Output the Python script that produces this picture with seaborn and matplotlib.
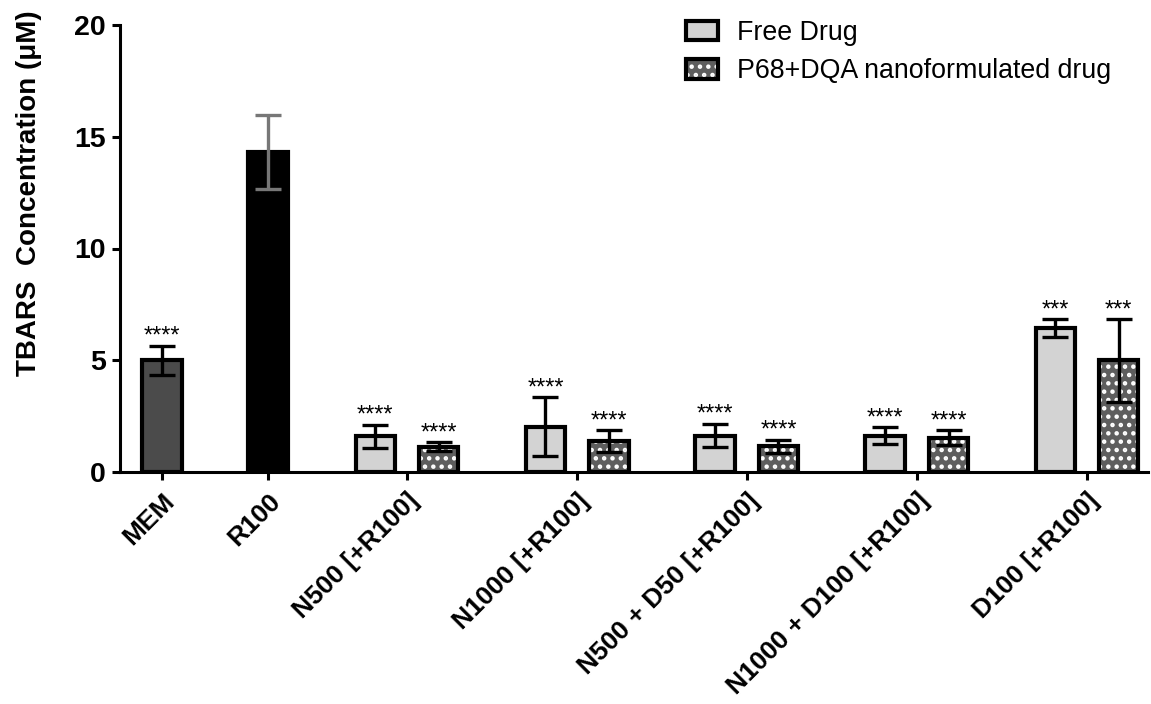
import numpy as np
import pandas as pd
import matplotlib
matplotlib.use("Agg")
import matplotlib.pyplot as plt
from matplotlib.patches import Patch, Rectangle
import seaborn as sns

# ---------------- data ----------------
categories = ["MEM", "R100", "N500 [+R100]", "N1000 [+R100]",
              "N500 + D50 [+R100]", "N1000 + D100 [+R100]", "D100 [+R100]"]
control_labels = ["MEM", "R100"]
control_means = [5.0, 14.32]
control_err = [0.65, 1.65]
control_stars = ["****", ""]

series_names = ["Free Drug", "P68+DQA nanoformulated drug"]
combo_labels = categories[2:]
free_means = [1.6, 2.03, 1.63, 1.63, 6.43]
free_err = [0.52, 1.32, 0.53, 0.38, 0.40]
free_stars = ["****", "****", "****", "****", "***"]
nano_means = [1.13, 1.38, 1.15, 1.53, 5.0]
nano_err = [0.21, 0.50, 0.30, 0.34, 1.85]
nano_stars = ["****", "****", "****", "****", "***"]

y_ticks = [0, 5, 10, 15, 20]

# ---------------- layout (style) ----------------
group_centers = [0, 1.67, 3.86, 6.54, 9.21, 11.89, 14.57]
pair_offset = 0.5

rows = []
for i, lab in enumerate(control_labels):
    rows.append(dict(pos=group_centers[i], mean=control_means[i], err=control_err[i],
                     kind=lab, stars=control_stars[i]))
for j, lab in enumerate(combo_labels):
    c = group_centers[2 + j]
    rows.append(dict(pos=c - pair_offset, mean=free_means[j], err=free_err[j],
                     kind=series_names[0], stars=free_stars[j]))
    rows.append(dict(pos=c + pair_offset, mean=nano_means[j], err=nano_err[j],
                     kind=series_names[1], stars=nano_stars[j]))
df = pd.DataFrame(rows)

kinds = ["MEM", "R100", series_names[0], series_names[1]]
palette = {"MEM": "#4b4b4b", "R100": "#000000",
           series_names[0]: "#d3d3d3", series_names[1]: "#5e5e5e"}

sns.set_theme(style="ticks")
plt.rcParams['font.family'] = ['Liberation Sans', 'DejaVu Sans']
plt.rcParams['hatch.linewidth'] = 2.0
plt.rcParams['text.color'] = 'black'

fig = plt.figure(figsize=(11.51, 7.04), dpi=100)
ax = fig.add_axes([120 / 1151, 1 - 472 / 704, 1028 / 1151, 447 / 704])

sns.barplot(data=df, x="pos", y="mean", hue="kind", hue_order=kinds, palette=palette,
            native_scale=True, dodge=False, width=0.62, errorbar=None,
            edgecolor="black", linewidth=3, legend=False, saturation=1, ax=ax)

# dotted pattern on nanoformulated bars
nano_pos = df.loc[df.kind == series_names[1], "pos"].to_numpy()
for p in list(ax.patches):
    cx = p.get_x() + p.get_width() / 2
    if np.any(np.isclose(cx, nano_pos, atol=1e-6)):
        p.set_hatch("..")
        p.set_edgecolor("white")
        p.set_linewidth(0)
        ax.add_patch(Rectangle((p.get_x(), p.get_y()), p.get_width(), p.get_height(),
                               fill=False, edgecolor="black", linewidth=3,
                               zorder=p.get_zorder() + 0.1))

# error bars
is_r100 = df.kind == "R100"
ax.errorbar(df.pos[~is_r100], df["mean"][~is_r100], yerr=df.err[~is_r100], fmt="none",
            ecolor="black", elinewidth=2.4, capsize=9.5, capthick=2.4, zorder=6)
ax.errorbar(df.pos[is_r100], df["mean"][is_r100], yerr=df.err[is_r100], fmt="none",
            ecolor="#777777", elinewidth=2.4, capsize=9.5, capthick=2.4, zorder=6)

# significance stars
for _, r in df.iterrows():
    if r.stars:
        ax.annotate(r.stars, (r.pos, r["mean"] + r.err), xytext=(0, 2),
                    textcoords="offset points", ha="center", va="baseline",
                    fontsize=17, color="black")

# axes styling
ax.set_ylim(0, 20)
ax.set_yticks(y_ticks)
ax.set_xlim(-0.66, 15.53)
ax.set_xticks(group_centers)
ax.set_xticklabels(categories, rotation=45, ha="right", rotation_mode="anchor",
                   fontsize=19, fontweight="bold")
for t in ax.get_yticklabels():
    t.set_fontsize(20.5)
    t.set_fontweight("bold")
ax.set_xlabel("")
ax.set_ylabel("TBARS  Concentration (μM)", fontsize=20, fontweight="bold", color="black")
ax.yaxis.set_label_coords(-0.076, 0.624)
sns.despine(ax=ax)
for s in ["left", "bottom"]:
    ax.spines[s].set_linewidth(2.2)
    ax.spines[s].set_color("black")
ax.tick_params(axis="both", direction="out", length=6, width=2.2, color="black",
               labelcolor="black", pad=4)
ax.tick_params(axis="x", pad=6)

# legend
free_h = Patch(facecolor=palette[series_names[0]], edgecolor="black", linewidth=3)
nano_h = (Patch(facecolor=palette[series_names[1]], edgecolor="white", linewidth=0, hatch=".."),
          Patch(fill=False, edgecolor="black", linewidth=3))
leg = fig.legend([free_h, nano_h], series_names, loc="upper left",
                 bbox_to_anchor=(686 / 1151, 1 - 20 / 704), bbox_transform=fig.transFigure,
                 frameon=False, fontsize=19.3, borderpad=0, borderaxespad=0,
                 handlelength=1.2, handleheight=0.75, handletextpad=0.7, labelspacing=0.45)
for t in leg.get_texts():
    t.set_color("black")

fig.savefig("out.png", dpi=100)
